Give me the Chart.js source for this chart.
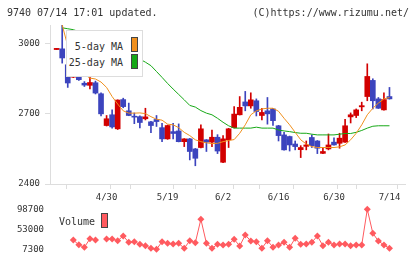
<!DOCTYPE html>
<html>
<head>
<meta charset="utf-8">
<script src="https://cdn.jsdelivr.net/npm/chart.js@4/dist/chart.umd.min.js"></script>
<style>
  body { margin: 0; background: #fff; }
  #wrap { position: relative; width: 420px; height: 259px; overflow: hidden; font-family: "DejaVu Sans Mono", monospace; color: #333; }
  canvas { position: absolute; left: 0; }
  .txt { position: absolute; font-size: 10px; line-height: 12px; white-space: nowrap; }
  .box { position: absolute; box-sizing: border-box; border: 1px solid #444; }
  #legend { position: absolute; left: 66px; top: 30px; width: 77px; height: 47px; box-sizing: border-box; border: 1px solid #ddd; background: #fff; }
</style>
</head>
<body>
<div id="wrap">
  <canvas id="price" width="420" height="205" style="top:0"></canvas>
  <canvas id="vol" width="420" height="70" style="top:195px"></canvas>
  <div class="txt" style="left:7px;top:7px">9740 07/14 17:01 updated.</div>
  <div class="txt" style="right:11px;top:7px">(C)https://www.rizumu.net/</div>
  <div id="legend">
    <div class="txt" style="right:19px;top:10px">5-day MA</div>
    <div class="box" style="left:64px;top:6px;width:7px;height:15px;background:#f0901e"></div>
    <div class="txt" style="right:19px;top:26px">25-day MA</div>
    <div class="box" style="left:64px;top:23px;width:7px;height:15px;background:#16a816"></div>
  </div>
  <div class="txt" style="right:325px;top:216px">Volume</div>
  <div class="box" style="left:101px;top:213px;width:7px;height:15px;background:#ff5a5f"></div>
</div>
<script>
// daily OHLC, 4/16 .. 7/14
const opens  = [2975, 2978, 2910, 2857, 2939, 2831, 2822, 2833, 2786, 2650,
                2696, 2636, 2761, 2713, 2690, 2688, 2679, 2666, 2676, 2641,
                2593, 2624, 2627, 2581, 2593, 2550, 2556, 2589, 2579, 2600,
                2493, 2589, 2641, 2696, 2751, 2734, 2756, 2693, 2713, 2721,
                2649, 2610, 2603, 2571, 2547, 2561, 2599, 2584, 2531, 2550,
                2579, 2574, 2579, 2687, 2693, 2730, 2774, 2843, 2764, 2717, 2774];
const highs  = [2980, 3095, 2915, 2910, 2941, 2838, 2891, 2840, 2790, 2693,
                2717, 2760, 2767, 2746, 2704, 2692, 2724, 2668, 2693, 2660,
                2652, 2660, 2657, 2594, 2595, 2552, 2653, 2590, 2631, 2611,
                2607, 2638, 2731, 2774, 2796, 2790, 2764, 2724, 2770, 2724,
                2651, 2621, 2605, 2584, 2564, 2584, 2610, 2586, 2556, 2614,
                2597, 2617, 2677, 2704, 2721, 2750, 2914, 2850, 2770, 2790, 2813];
const lows   = [2975, 2917, 2813, 2855, 2843, 2817, 2807, 2785, 2691, 2648,
                2639, 2633, 2726, 2692, 2658, 2640, 2674, 2620, 2646, 2581,
                2591, 2593, 2580, 2560, 2503, 2478, 2554, 2539, 2560, 2530,
                2491, 2556, 2640, 2695, 2713, 2724, 2691, 2674, 2656, 2650,
                2584, 2545, 2541, 2546, 2513, 2546, 2556, 2530, 2530, 2546,
                2566, 2553, 2578, 2661, 2684, 2713, 2756, 2721, 2723, 2716, 2763];
const closes = [2980, 2939, 2832, 2896, 2846, 2823, 2834, 2789, 2700, 2679,
                2644, 2759, 2731, 2693, 2686, 2663, 2687, 2650, 2667, 2593,
                2650, 2616, 2581, 2593, 2539, 2510, 2636, 2579, 2600, 2541,
                2593, 2636, 2699, 2728, 2734, 2760, 2710, 2706, 2700, 2671,
                2607, 2546, 2567, 2560, 2556, 2567, 2564, 2553, 2539, 2567,
                2567, 2596, 2649, 2696, 2717, 2735, 2860, 2756, 2724, 2761, 2764];

// moving averages
const ma5  = [null, 3080, 2990, 2940, 2895, 2868, 2853, 2849, 2836, 2813,
              2774, 2742, 2713, 2703, 2703, 2704, 2701, 2688, 2677, 2673,
              2656, 2653, 2641, 2621, 2607, 2589, 2581, 2576, 2573, 2574,
              2581, 2586, 2590, 2617, 2653, 2696, 2713, 2721, 2724, 2724,
              2711, 2681, 2653, 2621, 2589, 2571, 2560, 2556, 2556, 2556,
              2556, 2559, 2567, 2589, 2617, 2653, 2696, 2724, 2746, 2764, 2770];
const ma25 = [null, 3068, 3064, 3060, 3052, 3045, 3035, 3028, 3018, 3008,
              2998, 2985, 2972, 2960, 2948, 2934, 2921, 2906, 2881, 2856,
              2830, 2806, 2783, 2760, 2736, 2729, 2714, 2703, 2696, 2681,
              2664, 2649, 2639, 2639, 2639, 2639, 2643, 2639, 2639, 2639,
              2631, 2627, 2624, 2620, 2617, 2617, 2613, 2610, 2610, 2610,
              2610, 2613, 2616, 2616, 2621, 2629, 2639, 2647, 2649, 2649, 2649];

const volumes = [null, null, null, 28500, 17500, 11900, 31500, 28500, null, 31000,
                 31000, 27000, 37700, 23300, 24700, 18700, 15500, 9600, 7300, 24700,
                 21000, 19400, 21000, 9600, 27000, 22400, 75900, 21000, 9600, 18700,
                 17100, 19000, 30100, 14800, 40000, 26300, 24700, 9600, 27000, 11900,
                 17100, 23300, 11900, 32400, 18700, 19400, 23300, 37700, 15500, 23300,
                 17100, 19400, 19400, 15500, 17100, 17100, 98700, 43900, 26300, 17100, 9600];

const priceTicks = [2400, 2700, 3000];
const volTicks = [7300, 53000, 98700];
const dateLabels = ['4/30', '5/19', '6/2', '6/16', '6/30', '7/14'];
const dateIdx = [9, 20, 30, 40, 50, 60];

const UP = '#d20000';
const DOWN = '#3c44be';
const FONT = { family: '"DejaVu Sans Mono", monospace', size: 9 };
const xMin = -1.2, xMax = 62.8, gridDivs = 11;

const idx = closes.map((c, i) => i);
const candleColors = idx.map(i => (closes[i] >= opens[i] ? UP : DOWN));
const gridVals = [];
for (let k = 0; k <= gridDivs; k++) gridVals.push(xMin + (xMax - xMin) * k / gridDivs);

new Chart(document.getElementById('price'), {
  type: 'bar',
  data: {
    datasets: [
      {
        type: 'line',
        data: idx.map(i => ({ x: i, y: ma5[i] })),
        borderColor: '#f0901e',
        borderWidth: 1,
        pointRadius: 0,
        order: 0,
      },
      {
        type: 'line',
        data: idx.map(i => ({ x: i, y: ma25[i] })),
        borderColor: '#16a816',
        borderWidth: 1,
        pointRadius: 0,
        order: 0,
      },
      {
        data: idx.map(i => ({ x: i, y: [opens[i], closes[i]] })),
        backgroundColor: candleColors,
        barThickness: 5,
        grouped: false,
        order: 1,
      },
      {
        data: idx.map(i => ({ x: i, y: [lows[i], highs[i]] })),
        backgroundColor: candleColors,
        barThickness: 1,
        grouped: false,
        order: 2,
      },
    ],
  },
  options: {
    responsive: false,
    animation: false,
    devicePixelRatio: 1,
    events: [],
    layout: { padding: { top: 25, right: 15, left: 0, bottom: 0 } },
    plugins: { legend: { display: false }, tooltip: { enabled: false } },
    scales: {
      x: {
        type: 'linear',
        min: xMin,
        max: xMax,
        offset: false,
        afterFit: s => { s.height = 21; },
        afterBuildTicks: s => {
          s.ticks = gridVals.concat(dateIdx).sort((a, b) => a - b).map(v => ({ value: v }));
        },
        border: { display: true, color: '#ddd' },
        grid: {
          drawOnChartArea: false,
          tickLength: 5,
          color: ctx => (ctx.tick && dateIdx.includes(ctx.tick.value) ? 'rgba(0,0,0,0)' : '#ddd'),
        },
        ticks: {
          autoSkip: false,
          maxRotation: 0,
          padding: 3,
          color: '#333',
          font: FONT,
          callback: v => {
            const k = dateIdx.indexOf(v);
            return k >= 0 ? dateLabels[k] : '';
          },
        },
      },
      y: {
        position: 'left',
        min: 2400,
        max: 3080,
        afterFit: s => { s.width = 50; },
        afterBuildTicks: s => { s.ticks = priceTicks.map(v => ({ value: v })); },
        border: { display: true, color: '#ddd' },
        grid: { drawOnChartArea: false, tickLength: 5, color: '#ddd' },
        ticks: { padding: 5, color: '#333', font: FONT, callback: v => String(v) },
      },
    },
  },
});

// volume panel: canvas runs past the page bottom so the plot area ends at y=249
new Chart(document.getElementById('vol'), {
  type: 'line',
  data: {
    datasets: [
      {
        data: idx.map(i => ({ x: i, y: volumes[i] })),
        borderColor: '#ff5a5f',
        backgroundColor: '#ff5a5f',
        borderWidth: 1,
        pointStyle: 'rectRot',
        pointRadius: 3.5,
        pointBorderWidth: 0,
        spanGaps: false,
        clip: false,
      },
    ],
  },
  options: {
    responsive: false,
    animation: false,
    devicePixelRatio: 1,
    events: [],
    layout: { padding: { top: 14.3, right: 15, left: 0, bottom: 15.7 } },
    plugins: { legend: { display: false }, tooltip: { enabled: false } },
    scales: {
      x: { type: 'linear', min: xMin, max: xMax, display: false },
      y: {
        position: 'left',
        min: 7300,
        max: 98700,
        afterFit: s => { s.width = 50; },
        afterBuildTicks: s => { s.ticks = volTicks.map(v => ({ value: v })); },
        border: { display: false },
        grid: { display: false, drawTicks: false },
        ticks: { padding: 6, color: '#333', font: FONT, callback: v => String(v) },
      },
    },
  },
});
</script>
</body>
</html>
